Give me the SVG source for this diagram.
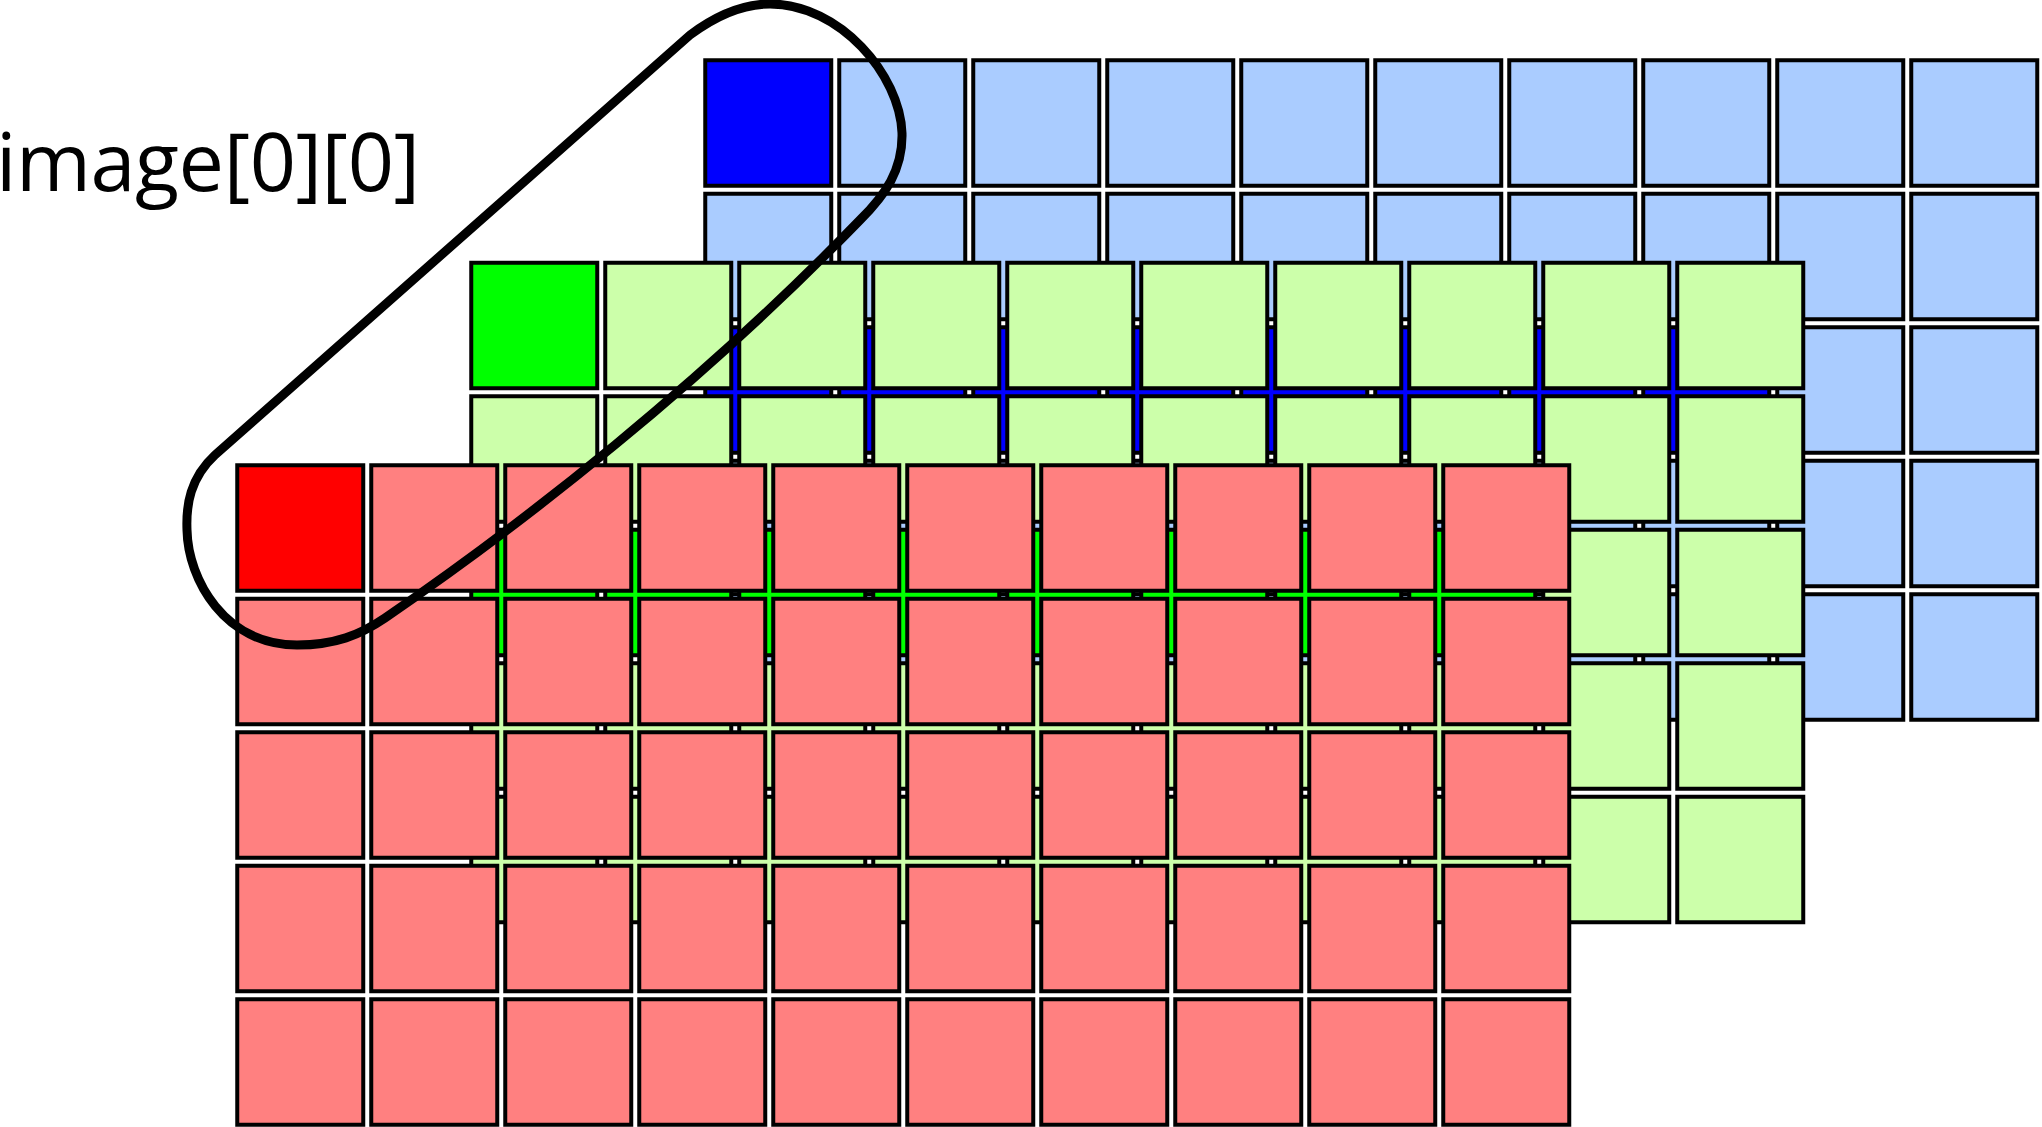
<svg xmlns="http://www.w3.org/2000/svg" width="2042" height="1127" viewBox="0 0 2042 1127">
<style>
.cell rect{stroke:#000;stroke-width:4}
.lb rect{fill:#AACCFF}
.lg rect{fill:#CCFFAA}
.lr rect{fill:#FF8080}
.lb rect.hi{fill:#0000FF}
.lg rect.hi{fill:#00FF00}
.lr rect.hi{fill:#FF0000}
.lasso{fill:none;stroke:#000;stroke-width:9;stroke-linejoin:round}
.label{font-family:"Open Sans","Noto Sans","Liberation Sans",sans-serif;font-size:81px;fill:#000}
</style>
<rect width="2042" height="1127" fill="#fff"/>
<g id="layer-blue" class="lb cell" transform="translate(703.5,58.5)">
<rect x="1.75" y="1.75" width="126" height="125.5" class="hi"/>
<rect x="135.75" y="1.75" width="126" height="125.5"/>
<rect x="269.75" y="1.75" width="126" height="125.5"/>
<rect x="403.75" y="1.75" width="126" height="125.5"/>
<rect x="537.75" y="1.75" width="126" height="125.5"/>
<rect x="671.75" y="1.75" width="126" height="125.5"/>
<rect x="805.75" y="1.75" width="126" height="125.5"/>
<rect x="939.75" y="1.75" width="126" height="125.5"/>
<rect x="1073.75" y="1.75" width="126" height="125.5"/>
<rect x="1207.75" y="1.75" width="126" height="125.5"/>
<rect x="1.75" y="135.25" width="126" height="125.5"/>
<rect x="135.75" y="135.25" width="126" height="125.5"/>
<rect x="269.75" y="135.25" width="126" height="125.5"/>
<rect x="403.75" y="135.25" width="126" height="125.5"/>
<rect x="537.75" y="135.25" width="126" height="125.5"/>
<rect x="671.75" y="135.25" width="126" height="125.5"/>
<rect x="805.75" y="135.25" width="126" height="125.5"/>
<rect x="939.75" y="135.25" width="126" height="125.5"/>
<rect x="1073.75" y="135.25" width="126" height="125.5"/>
<rect x="1207.75" y="135.25" width="126" height="125.5"/>
<rect x="1.75" y="268.75" width="126" height="125.5" class="hi"/>
<rect x="135.75" y="268.75" width="126" height="125.5" class="hi"/>
<rect x="269.75" y="268.75" width="126" height="125.5" class="hi"/>
<rect x="403.75" y="268.75" width="126" height="125.5" class="hi"/>
<rect x="537.75" y="268.75" width="126" height="125.5" class="hi"/>
<rect x="671.75" y="268.75" width="126" height="125.5" class="hi"/>
<rect x="805.75" y="268.75" width="126" height="125.5" class="hi"/>
<rect x="939.75" y="268.75" width="126" height="125.5" class="hi"/>
<rect x="1073.75" y="268.75" width="126" height="125.5"/>
<rect x="1207.75" y="268.75" width="126" height="125.5"/>
<rect x="1.75" y="402.25" width="126" height="125.5"/>
<rect x="135.75" y="402.25" width="126" height="125.5"/>
<rect x="269.75" y="402.25" width="126" height="125.5"/>
<rect x="403.75" y="402.25" width="126" height="125.5"/>
<rect x="537.75" y="402.25" width="126" height="125.5"/>
<rect x="671.75" y="402.25" width="126" height="125.5"/>
<rect x="805.75" y="402.25" width="126" height="125.5"/>
<rect x="939.75" y="402.25" width="126" height="125.5"/>
<rect x="1073.75" y="402.25" width="126" height="125.5"/>
<rect x="1207.75" y="402.25" width="126" height="125.5"/>
<rect x="1.75" y="535.75" width="126" height="125.5"/>
<rect x="135.75" y="535.75" width="126" height="125.5"/>
<rect x="269.75" y="535.75" width="126" height="125.5"/>
<rect x="403.75" y="535.75" width="126" height="125.5"/>
<rect x="537.75" y="535.75" width="126" height="125.5"/>
<rect x="671.75" y="535.75" width="126" height="125.5"/>
<rect x="805.75" y="535.75" width="126" height="125.5"/>
<rect x="939.75" y="535.75" width="126" height="125.5"/>
<rect x="1073.75" y="535.75" width="126" height="125.5"/>
<rect x="1207.75" y="535.75" width="126" height="125.5"/>
</g>
<g id="layer-green" class="lg cell" transform="translate(469.5,261)">
<rect x="1.75" y="1.75" width="126" height="125.5" class="hi"/>
<rect x="135.75" y="1.75" width="126" height="125.5"/>
<rect x="269.75" y="1.75" width="126" height="125.5"/>
<rect x="403.75" y="1.75" width="126" height="125.5"/>
<rect x="537.75" y="1.75" width="126" height="125.5"/>
<rect x="671.75" y="1.75" width="126" height="125.5"/>
<rect x="805.75" y="1.75" width="126" height="125.5"/>
<rect x="939.75" y="1.75" width="126" height="125.5"/>
<rect x="1073.75" y="1.75" width="126" height="125.5"/>
<rect x="1207.75" y="1.75" width="126" height="125.5"/>
<rect x="1.75" y="135.25" width="126" height="125.5"/>
<rect x="135.75" y="135.25" width="126" height="125.5"/>
<rect x="269.75" y="135.25" width="126" height="125.5"/>
<rect x="403.75" y="135.25" width="126" height="125.5"/>
<rect x="537.75" y="135.25" width="126" height="125.5"/>
<rect x="671.75" y="135.25" width="126" height="125.5"/>
<rect x="805.75" y="135.25" width="126" height="125.5"/>
<rect x="939.75" y="135.25" width="126" height="125.5"/>
<rect x="1073.75" y="135.25" width="126" height="125.5"/>
<rect x="1207.75" y="135.25" width="126" height="125.5"/>
<rect x="1.75" y="268.75" width="126" height="125.5" class="hi"/>
<rect x="135.75" y="268.75" width="126" height="125.5" class="hi"/>
<rect x="269.75" y="268.75" width="126" height="125.5" class="hi"/>
<rect x="403.75" y="268.75" width="126" height="125.5" class="hi"/>
<rect x="537.75" y="268.75" width="126" height="125.5" class="hi"/>
<rect x="671.75" y="268.75" width="126" height="125.5" class="hi"/>
<rect x="805.75" y="268.75" width="126" height="125.5" class="hi"/>
<rect x="939.75" y="268.75" width="126" height="125.5" class="hi"/>
<rect x="1073.75" y="268.75" width="126" height="125.5"/>
<rect x="1207.75" y="268.75" width="126" height="125.5"/>
<rect x="1.75" y="402.25" width="126" height="125.5"/>
<rect x="135.75" y="402.25" width="126" height="125.5"/>
<rect x="269.75" y="402.25" width="126" height="125.5"/>
<rect x="403.75" y="402.25" width="126" height="125.5"/>
<rect x="537.75" y="402.25" width="126" height="125.5"/>
<rect x="671.75" y="402.25" width="126" height="125.5"/>
<rect x="805.75" y="402.25" width="126" height="125.5"/>
<rect x="939.75" y="402.25" width="126" height="125.5"/>
<rect x="1073.75" y="402.25" width="126" height="125.5"/>
<rect x="1207.75" y="402.25" width="126" height="125.5"/>
<rect x="1.75" y="535.75" width="126" height="125.5"/>
<rect x="135.75" y="535.75" width="126" height="125.5"/>
<rect x="269.75" y="535.75" width="126" height="125.5"/>
<rect x="403.75" y="535.75" width="126" height="125.5"/>
<rect x="537.75" y="535.75" width="126" height="125.5"/>
<rect x="671.75" y="535.75" width="126" height="125.5"/>
<rect x="805.75" y="535.75" width="126" height="125.5"/>
<rect x="939.75" y="535.75" width="126" height="125.5"/>
<rect x="1073.75" y="535.75" width="126" height="125.5"/>
<rect x="1207.75" y="535.75" width="126" height="125.5"/>
</g>
<g id="layer-red" class="lr cell" transform="translate(235.5,463.5)">
<rect x="1.75" y="1.75" width="126" height="125.5" class="hi"/>
<rect x="135.75" y="1.75" width="126" height="125.5"/>
<rect x="269.75" y="1.75" width="126" height="125.5"/>
<rect x="403.75" y="1.75" width="126" height="125.5"/>
<rect x="537.75" y="1.75" width="126" height="125.5"/>
<rect x="671.75" y="1.75" width="126" height="125.5"/>
<rect x="805.75" y="1.75" width="126" height="125.5"/>
<rect x="939.75" y="1.75" width="126" height="125.5"/>
<rect x="1073.75" y="1.75" width="126" height="125.5"/>
<rect x="1207.75" y="1.75" width="126" height="125.5"/>
<rect x="1.75" y="135.25" width="126" height="125.5"/>
<rect x="135.75" y="135.25" width="126" height="125.5"/>
<rect x="269.75" y="135.25" width="126" height="125.5"/>
<rect x="403.75" y="135.25" width="126" height="125.5"/>
<rect x="537.75" y="135.25" width="126" height="125.5"/>
<rect x="671.75" y="135.25" width="126" height="125.5"/>
<rect x="805.75" y="135.25" width="126" height="125.5"/>
<rect x="939.75" y="135.25" width="126" height="125.5"/>
<rect x="1073.75" y="135.25" width="126" height="125.5"/>
<rect x="1207.75" y="135.25" width="126" height="125.5"/>
<rect x="1.75" y="268.75" width="126" height="125.5"/>
<rect x="135.75" y="268.75" width="126" height="125.5"/>
<rect x="269.75" y="268.75" width="126" height="125.5"/>
<rect x="403.75" y="268.75" width="126" height="125.5"/>
<rect x="537.75" y="268.75" width="126" height="125.5"/>
<rect x="671.75" y="268.75" width="126" height="125.5"/>
<rect x="805.75" y="268.75" width="126" height="125.5"/>
<rect x="939.75" y="268.75" width="126" height="125.5"/>
<rect x="1073.75" y="268.75" width="126" height="125.5"/>
<rect x="1207.75" y="268.75" width="126" height="125.5"/>
<rect x="1.75" y="402.25" width="126" height="125.5"/>
<rect x="135.75" y="402.25" width="126" height="125.5"/>
<rect x="269.75" y="402.25" width="126" height="125.5"/>
<rect x="403.75" y="402.25" width="126" height="125.5"/>
<rect x="537.75" y="402.25" width="126" height="125.5"/>
<rect x="671.75" y="402.25" width="126" height="125.5"/>
<rect x="805.75" y="402.25" width="126" height="125.5"/>
<rect x="939.75" y="402.25" width="126" height="125.5"/>
<rect x="1073.75" y="402.25" width="126" height="125.5"/>
<rect x="1207.75" y="402.25" width="126" height="125.5"/>
<rect x="1.75" y="535.75" width="126" height="125.5"/>
<rect x="135.75" y="535.75" width="126" height="125.5"/>
<rect x="269.75" y="535.75" width="126" height="125.5"/>
<rect x="403.75" y="535.75" width="126" height="125.5"/>
<rect x="537.75" y="535.75" width="126" height="125.5"/>
<rect x="671.75" y="535.75" width="126" height="125.5"/>
<rect x="805.75" y="535.75" width="126" height="125.5"/>
<rect x="939.75" y="535.75" width="126" height="125.5"/>
<rect x="1073.75" y="535.75" width="126" height="125.5"/>
<rect x="1207.75" y="535.75" width="126" height="125.5"/>
</g>
<g id="lasso">
<path class="lasso" d="M 770,4 C 742,4 714,17 690,35 L 215,455 C 190,478 186,505 187,530 C 188,580 225,645 297,645 C 335,645 360,635 385,618 C 525,522 700,385 860,220 C 885,195 903,170 902,133 C 900,75 840,4 770,4 Z"/>
</g>
<g id="label">
<text class="label" x="-4" y="191" textLength="424" lengthAdjust="spacing">image[0][0]</text>
</g>
</svg>
